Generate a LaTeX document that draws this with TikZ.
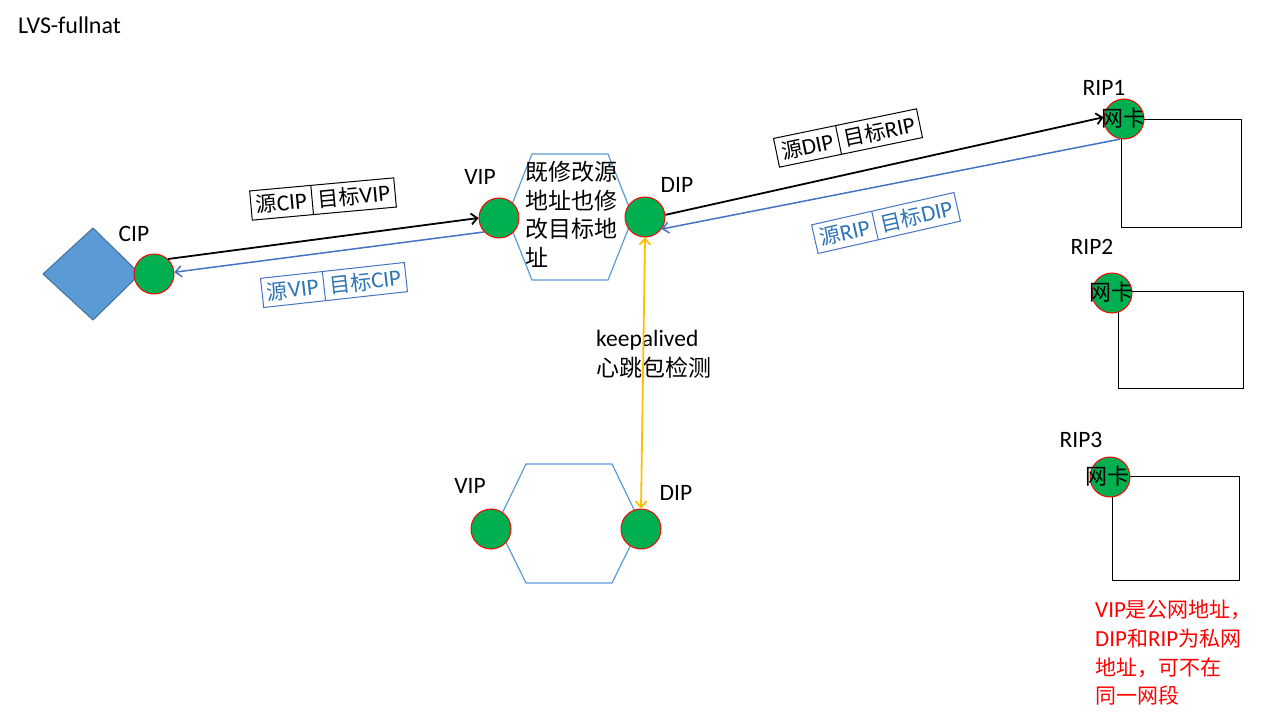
\documentclass[tikz,border=0pt]{standalone}
\usepackage{fontspec}
\setmainfont{Carlito}
\newfontfamily\cjk{Noto Sans CJK SC}
\newcommand\zh[1]{{\cjk\fontsize{21}{25}\selectfont #1}}
\usetikzlibrary{arrows.meta,shapes.multipart}
\definecolor{nicgreen}{HTML}{00B050}
\definecolor{diafill}{HTML}{5B9BD5}
\definecolor{diadraw}{HTML}{41719C}
\definecolor{hexblue}{HTML}{5B9BD5}
\definecolor{arrblue}{HTML}{4472C4}
\definecolor{txtblue}{HTML}{2E75B6}
\definecolor{hborange}{HTML}{FFC000}
\begin{document}
\begin{tikzpicture}[x=1pt,y=-1pt,
  nic/.style={circle, fill=nicgreen, draw=red, line width=1pt, minimum size=40pt, inner sep=0pt},
  lbl/.style={font=\fontsize{23.5}{27}\selectfont, inner sep=0pt},
  zhlbl/.style={font=\cjk\fontsize{22}{26}\selectfont, inner sep=0pt},
  pkt/.style={rectangle split, rectangle split horizontal, rectangle split parts=2,
     draw, line width=1pt, inner xsep=5pt, inner ysep=5pt, font=\fontsize{23}{27}\selectfont},
  bluepkt/.style={pkt, draw=arrblue, text=txtblue},
  server/.style={draw, line width=1pt, anchor=north west, inner sep=0pt},
  hexline/.style={draw=hexblue, line width=1.2pt},
  blk/.style={draw=black, line width=1.8pt, -{Straight Barb[length=6pt,width=11pt]}},
  blu/.style={draw=arrblue, line width=1.5pt, -{Straight Barb[length=6pt,width=11pt]}},
  org/.style={draw=hborange, line width=1.8pt, {Straight Barb[length=6pt,width=11pt]}-{Straight Barb[length=6pt,width=11pt]}}
]
\useasboundingbox (0,0) rectangle (1280,720);

% title
\node[lbl, anchor=base west, font=\fontsize{24}{28}\selectfont] (title) at (18,33) {LVS-fullnat};

% client diamond
\draw[fill=diafill, draw=diadraw, line width=1pt] (43,274) -- (93,228) -- (140,274) -- (93,320) -- cycle;

% hexagons
\draw[hexline] (532,154) -- (608,154) -- (633,217) -- (608,280) -- (532,280) -- (507,217) -- cycle;
\draw[hexline] (526,464) -- (612,464) -- (641,524) -- (612,583) -- (526,583) -- (497,524) -- cycle;

% servers
\node[server, minimum width=120pt, minimum height=108pt] (srv1) at (1121,119) {};
\node[server, minimum width=125pt, minimum height=97pt] (srv2) at (1118,291) {};
\node[server, minimum width=127pt, minimum height=104pt] (srv3) at (1112,476) {};

% interfaces
\node[nic] (cip) at (154,274) {};
\node[nic] (vipT) at (499,218) {};
\node[nic] (dipT) at (645,217) {};
\node[nic] (vipB) at (491,529) {};
\node[nic] (dipB) at (641,529) {};
\node[nic] (rip1) at (1124,119) {};
\node[nic] (rip2) at (1112,293) {};
\node[nic] (rip3) at (1110,477) {};

\node[zhlbl] (nk1) at (1123,118) {网卡};
\node[zhlbl] (nk2) at (1111,292) {网卡};
\node[zhlbl] (nk3) at (1107,476) {网卡};

% labels
\node[lbl] (lcip) at (134,234) {CIP};
\node[lbl] (lvipT) at (480,177) {VIP};
\node[lbl] (ldipT) at (677,185) {DIP};
\node[lbl] (lvipB) at (470,486) {VIP};
\node[lbl] (ldipB) at (676,493) {DIP};
\node[lbl] (lrip1) at (1104,88) {RIP1};
\node[lbl] (lrip2) at (1092,247) {RIP2};
\node[lbl] (lrip3) at (1081,440) {RIP3};

\node[anchor=north west, align=left, inner sep=0pt, font=\cjk\fontsize{23}{28.7}\selectfont] (hextxt) at (525,161)
  {既修改源\\地址也修\\改目标地\\址};

\node[lbl, anchor=base west] (ka) at (596,346) {keepalived};
\node[zhlbl, anchor=base west, font=\cjk\fontsize{23}{27}\selectfont] (hb) at (596,376) {心跳包检测};

\node[anchor=north west, align=left, inner sep=0pt, text=red, font=\fontsize{23}{28.7}\selectfont] (note) at (1095,600)
  {VIP\zh{是公网地址，}\\DIP\zh{和}RIP\zh{为私网}\\\zh{地址，可不在}\\\zh{同一网段}};

% packet boxes
\node[pkt, rotate=5.2] (b1) at (323,199) {\zh{源}CIP\nodepart{two}\zh{目标}VIP};
\node[bluepkt, rotate=6.3] (b2) at (334,285) {\zh{源}VIP\nodepart{two}\zh{目标}CIP};
\node[pkt, rotate=11.7] (b3) at (848,138) {\zh{源}DIP\nodepart{two}\zh{目标}RIP};
\node[bluepkt, rotate=12.8] (b4) at (886,223) {\zh{源}RIP\nodepart{two}\zh{目标}DIP};

% connectors
\draw[blk] (cip.47) -- (vipT.180);
\draw[blu] (vipT.223) -- (cip.5);
\draw[blk] (dipT.6) -- (rip1.175);
\draw[blu] (rip1.259) -- (dipT.324);
\draw[org] (dipT.south) -- (dipB.north);
\end{tikzpicture}
\end{document}
